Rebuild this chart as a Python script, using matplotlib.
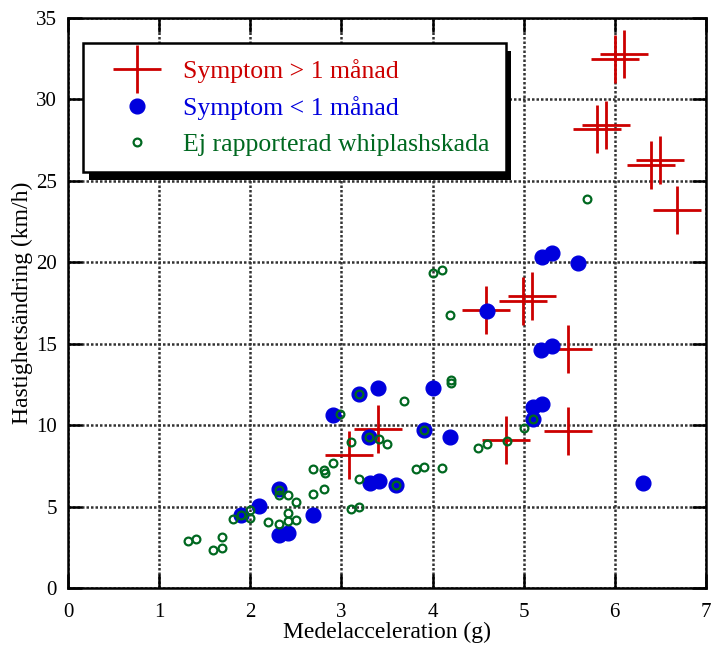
import matplotlib
matplotlib.use("Agg")
import matplotlib.pyplot as plt
import matplotlib.patheffects as pe

plt.rcParams['font.family'] = ['Liberation Serif', 'DejaVu Serif']

# Symptom > 1 månad
long_x = [6.0, 6.1, 5.81, 5.9, 6.4, 6.5, 6.68, 4.99, 5.09, 4.59, 5.49, 5.49, 4.81, 3.40, 3.08]
long_y = [32.5, 32.8, 28.2, 28.4, 26.0, 26.3, 23.2, 17.6, 17.9, 17.1, 14.7, 9.64, 9.1, 9.76, 8.16]

# Symptom < 1 månad
short_x = [5.20, 5.31, 5.60, 4.60, 5.19, 5.31, 5.10, 5.20, 5.10, 6.31,
           3.40, 4.00, 3.19, 2.91, 3.91, 4.19, 3.30, 3.31, 3.41, 3.60,
           2.31, 2.10, 1.90, 2.31, 2.41, 2.69]
short_y = [20.3, 20.6, 19.95, 17.0, 14.6, 14.85, 11.1, 11.3, 10.4, 6.45,
           12.3, 12.3, 11.9, 10.6, 9.7, 9.27, 9.27, 6.45, 6.6, 6.3,
           6.1, 5.03, 4.5, 3.25, 3.4, 4.5]

# Ej rapporterad whiplashskada
none_x = [1.32, 1.41, 1.59, 1.69, 1.69, 1.81, 1.90, 2.00, 2.00, 2.20,
          2.31, 2.41, 2.41, 2.50, 2.31, 2.31, 2.41, 2.50, 2.69, 2.81,
          2.69, 2.81, 2.82, 2.91, 2.99, 3.10, 3.19, 3.19, 3.10, 3.19,
          3.30, 3.41, 3.50, 3.60, 3.69, 3.82, 3.91, 3.91, 4.00, 4.10,
          4.10, 4.19, 4.20, 4.20, 4.50, 4.60, 4.82, 5.00, 5.10, 5.70]
none_y = [2.9, 3.0, 2.33, 2.46, 3.13, 4.24, 4.5, 4.3, 4.8, 4.05,
          3.93, 4.1, 4.6, 4.17, 6.0, 5.7, 5.7, 5.28, 5.8, 6.08,
          7.3, 7.24, 7.06, 7.67, 10.7, 8.96, 11.9, 6.7, 4.85, 4.97,
          9.27, 9.14, 8.84, 6.3, 11.5, 7.3, 7.43, 9.7, 19.35, 19.5,
          7.37, 16.75, 12.8, 12.6, 8.6, 8.84, 9.0, 9.8, 10.4, 23.9]

labels = ["Symptom > 1 månad", "Symptom < 1 månad", "Ej rapporterad whiplashskada"]
colors = ["#cc0000", "#0000dd", "#006820"]

xticks = [0, 1, 2, 3, 4, 5, 6, 7]
yticks = [0, 5, 10, 15, 20, 25, 30, 35]

fig = plt.figure(figsize=(7.12, 6.47), dpi=100)
ax = fig.add_axes([0.0955, 0.0912, 0.896, 0.881])

ax.plot(long_x, long_y, linestyle='none', marker='+', ms=35, mew=2.0,
        color=colors[0], label=labels[0], zorder=3)
ax.plot(short_x, short_y, linestyle='none', marker='o', ms=10.6,
        color=colors[1], mec=colors[1], label=labels[1], zorder=4)
ax.plot(none_x, none_y, linestyle='none', marker='o', ms=5.6, mew=1.6,
        mfc='none', mec=colors[2], label=labels[2], zorder=5)

ax.set_xlim(0, 7)
ax.set_ylim(0, 35)
ax.set_xticks(xticks)
ax.set_yticks(yticks)
ax.grid(True, color='#333333', linestyle=(0, (1, 0.8)), linewidth=1.8, zorder=1)
ax.set_axisbelow(True)
ax.tick_params(direction='in', length=10, width=1.8, top=True, right=True,
               labelsize=15, colors='black')
ax.tick_params(axis='x', pad=11)
ax.tick_params(axis='y', pad=8)
for s in ax.spines.values():
    s.set_linewidth(1.8)

ax.set_xlabel("Medelacceleration (g)", fontsize=17, labelpad=0)
ax.set_ylabel("Hastighetsändring (km/h)", fontsize=17, labelpad=2)

leg = ax.legend(loc='upper left', bbox_to_anchor=(0.0235, 0.956), borderaxespad=0,
                fontsize=18.5, frameon=True, fancybox=False, edgecolor='black',
                handlelength=2.95, handletextpad=0.34, borderpad=0.62,
                labelspacing=0.5)
frame = leg.get_frame()
frame.set_linewidth(1.8)
frame.set_alpha(1)
frame.set_path_effects([pe.SimplePatchShadow(offset=(4, -6), shadow_rgbFace='black', alpha=1),
                        pe.Normal()])
for t, c in zip(leg.get_texts(), colors):
    t.set_color(c)
leg.legend_handles[0].set_markersize(35)
leg.set_zorder(10)

fig.savefig("out.png", dpi=100)
